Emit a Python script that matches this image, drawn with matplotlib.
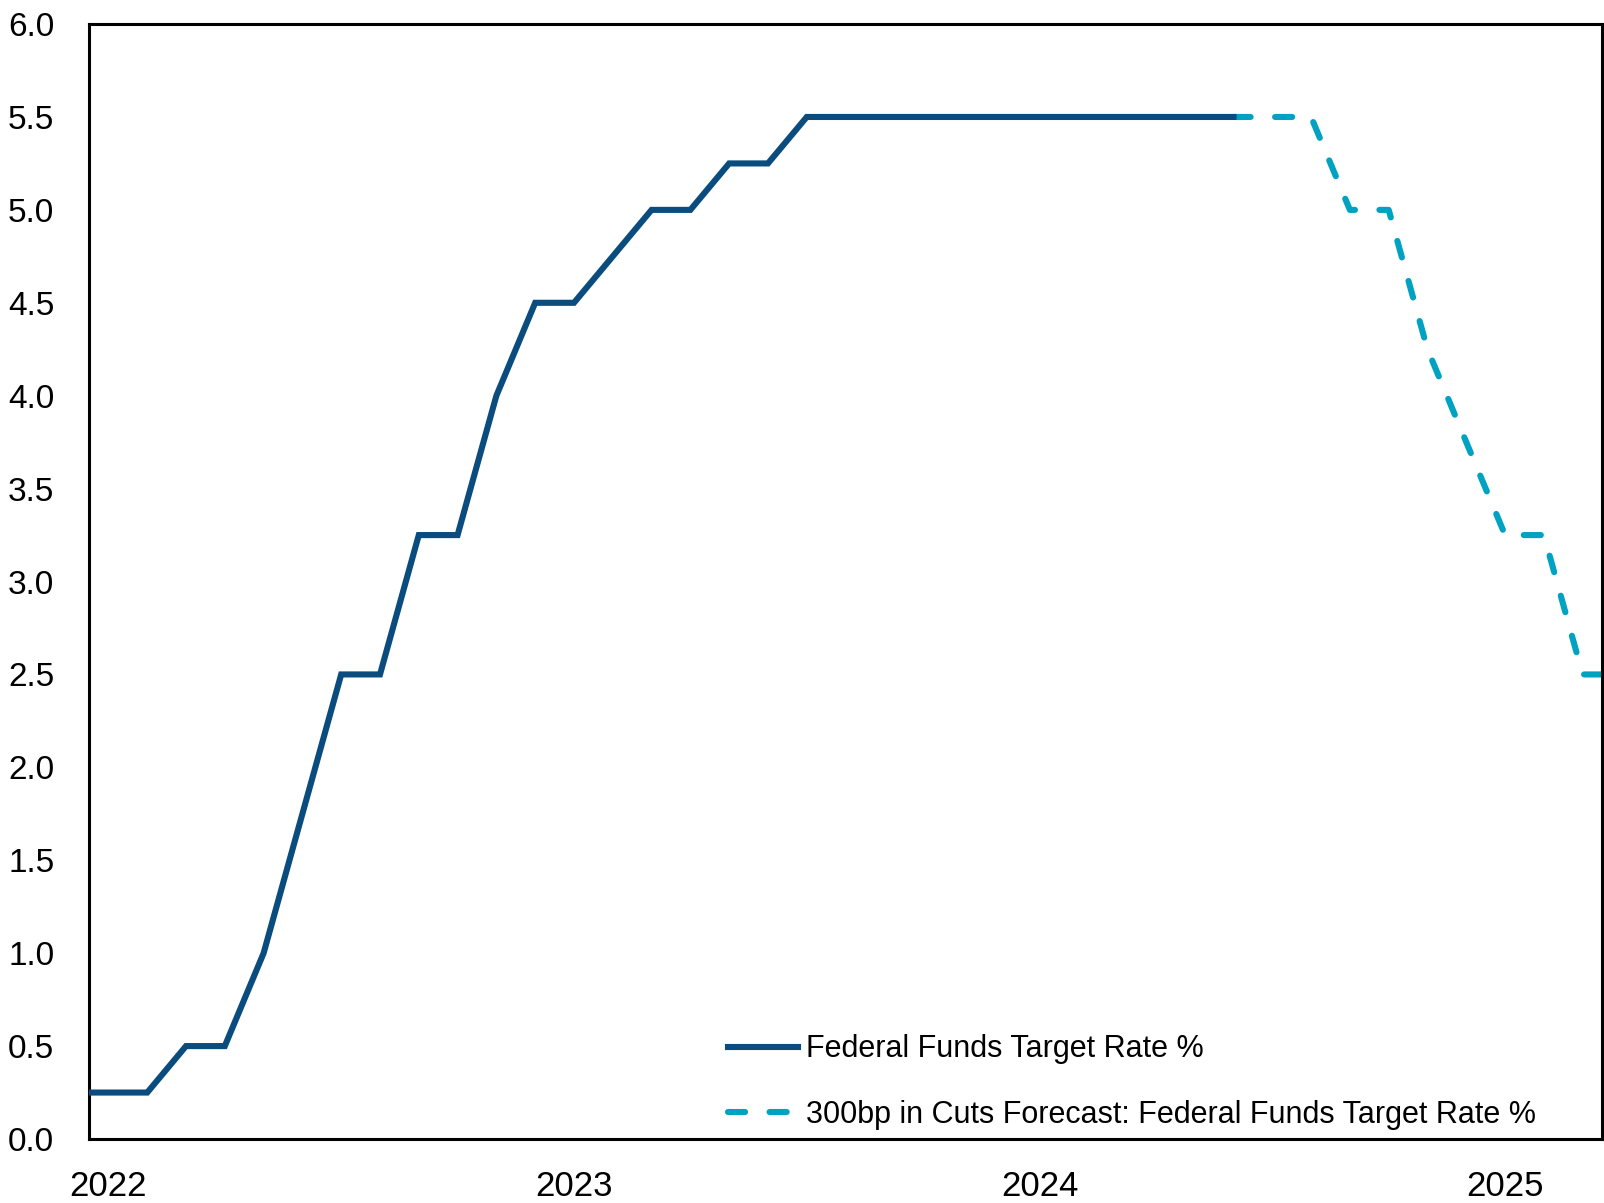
import matplotlib
matplotlib.use('Agg')
import matplotlib.pyplot as plt

plt.rcParams['font.family'] = ['Liberation Sans Narrow', 'Liberation Sans', 'DejaVu Sans']

# month index: 0 = Jan 2022 (-1 = Dec 2021)
actual_months = list(range(-1, 30))
actual_rate = [0.25, 0.25, 0.25, 0.5, 0.5, 1.0, 1.75, 2.5, 2.5, 3.25, 3.25, 4.0, 4.5,
               4.5, 4.75, 5.0, 5.0, 5.25, 5.25, 5.5, 5.5, 5.5, 5.5, 5.5, 5.5,
               5.5, 5.5, 5.5, 5.5, 5.5, 5.5]
forecast_months = list(range(29, 40))
forecast_rate = [5.5, 5.5, 5.5, 5.0, 5.0, 4.25, 3.75, 3.25, 3.25, 2.5, 2.5]
year_ticks = [0, 12, 24, 36]
year_labels = ['2022', '2023', '2024', '2025']

fig = plt.figure(figsize=(16.04, 12.03), dpi=100, facecolor='white')
ax = fig.add_axes([0.0555, 0.0532, 0.9433, 0.9268])

ax.plot(actual_months, actual_rate, color='#0A4C7E', lw=4.4,
        solid_joinstyle='miter', label='Federal Funds Target Rate %', zorder=3)
ax.plot(forecast_months, forecast_rate, color='#00A2C2', lw=4.4,
        dashes=(2.8, 4.0), dash_capstyle='round',
        label='300bp in Cuts Forecast: Federal Funds Target Rate %', zorder=2)

ax.set_xlim(-0.5, 38.5)
ax.set_ylim(0, 6)
ax.set_yticks([i * 0.5 for i in range(13)])
ax.set_yticklabels([f'{i * 0.5:.1f}' for i in range(13)])
ax.set_xticks(year_ticks)
ax.set_xticklabels(year_labels)
ax.tick_params(axis='both', length=0, colors='#000000')
ax.tick_params(axis='y', pad=25, labelsize=24)
ax.tick_params(axis='x', pad=22, labelsize=25)

for s in ax.spines.values():
    s.set_linewidth(2.2)
    s.set_color('black')

leg = ax.legend(loc='lower left', bbox_to_anchor=(0.454, 0.061),
                bbox_transform=fig.transFigure, frameon=False, fontsize=22,
                handlelength=2.3, handletextpad=0.25, labelspacing=1.15,
                borderpad=0, borderaxespad=0)

fig.savefig('out.png', dpi=100, facecolor='white')
